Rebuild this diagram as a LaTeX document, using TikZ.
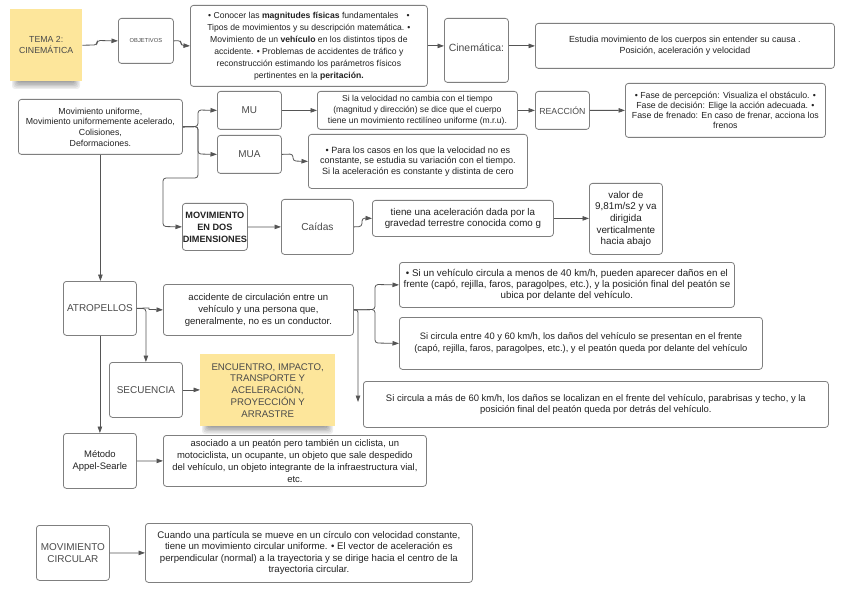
\documentclass[tikz,border=0pt]{standalone}
\usepackage{fontspec}
\setmainfont{Liberation Sans}
\usetikzlibrary{arrows.meta}
\definecolor{cSticky}{HTML}{FDE69B}
\definecolor{cBord}{HTML}{7F7F7F}
\definecolor{cConn}{HTML}{555555}
\definecolor{cLbl}{HTML}{4A4A4A}
\definecolor{cTxt}{HTML}{222222}
\newcommand{\fs}[2]{\fontsize{#1}{#2}\selectfont}
\newcommand{\stickyshadow}[3]{% x-left, x-right, y-bottom
  \foreach \i in {0,...,5}{
    \fill[black, opacity=0.07, rounded corners=3bp]
      ({#1+2+1.3*\i}, {#3-3+0.3*\i}) rectangle ({#2-2-1.3*\i}, {#3+8-1.4*\i});
  }}
\begin{document}
\begin{tikzpicture}[x=1bp,y=-1bp,
 box/.style={draw=cBord, line width=0.8bp, rounded corners=3bp, fill=white, inner sep=0pt, align=center, text=cTxt, anchor=north west},
 lab/.style={box, text=cLbl},
 stk/.style={fill=cSticky, inner sep=0pt, align=center, text=cLbl, anchor=north west},
 conn/.style={draw=cConn, line width=0.8bp, rounded corners=3bp, -{Triangle[length=6.5bp,width=4.5bp]}},
]
\useasboundingbox[fill=white] (0,0) rectangle (848,599);

% sticky-note shadows
\stickyshadow{10}{82}{81}
\stickyshadow{200}{335}{426}

% ---- top row
\node[stk, minimum width=72bp, minimum height=72bp, font=\fs{8.8}{11}] (tema) at (10,9) {TEMA 2:\\CINEMÁTICA};
\node[box, minimum width=55bp, minimum height=45bp, font=\fs{5.8}{7}, text=cLbl] (obj) at (118,18) {OBJETIVOS};
\node[box, minimum width=237bp, minimum height=81bp, font=\fs{8.65}{12}] (objb) at (190,5)
 {• Conocer las \textbf{magnitudes físicas} fundamentales\hspace{8bp}•\\
  Tipos de movimientos y su descripción matemática. •\\
  Movimiento de un \textbf{vehículo} en los distintos tipos de\\
  accidente. • Problemas de accidentes de tráfico y\\
  reconstrucción estimando los parámetros físicos\\
  pertinentes en la \textbf{peritación.}};
\node[lab, minimum width=64bp, minimum height=64bp, font=\fs{10.5}{12}] (cine) at (444,18) {\raisebox{6bp}{Cinemática:}};
\node[box, minimum width=299bp, minimum height=45bp, font=\fs{8.9}{11}] (est) at (535,23)
 {Estudia movimiento de los cuerpos sin entender su causa .\\Posición, aceleración y velocidad};

% ---- second block
\node[box, minimum width=164bp, minimum height=55bp, font=\fs{8.8}{10.7}] (movu) at (18,99)
 {Movimiento uniforme,\\Movimiento uniformemente acelerado,\\Colisiones,\\Deformaciones.};
\node[lab, minimum width=64bp, minimum height=38bp, font=\fs{10}{12}] (mu) at (217,91) {MU};
\node[lab, minimum width=64bp, minimum height=38bp, font=\fs{10}{12}] (mua) at (217,135) {MUA};
\node[box, minimum width=200bp, minimum height=38bp, font=\fs{8.6}{11}] (sivel) at (317,91)
 {Si la velocidad no cambia con el tiempo\\(magnitud y dirección) se dice que el cuerpo\\tiene un movimiento rectilíneo uniforme (m.r.u).};
\node[lab, minimum width=54bp, minimum height=38bp, font=\fs{8.8}{11}] (reac) at (535,91) {REACCIÓN};
\node[box, minimum width=200bp, minimum height=54bp, font=\fs{8.8}{10.3}] (fase) at (625,83)
 {• Fase de percepción: Visualiza el obstáculo. •\\Fase de decisión: Elige la acción adecuada. •\\Fase de frenado: En caso de frenar, acciona los\\frenos};
\node[box, minimum width=219bp, minimum height=54bp, font=\fs{9.1}{10.3}] (para) at (308,134)
 {• Para los casos en los que la velocidad no es\\constante, se estudia su variación con el tiempo.\\Si la aceleración es constante y distinta de cero};
\node[box, minimum width=65bp, minimum height=47bp, font=\fs{9.2}{12}\bfseries] (dos) at (182,203)
 {MOVIMIENTO\\EN DOS\\DIMENSIONES};
\node[lab, minimum width=72bp, minimum height=55bp, font=\fs{10.2}{12}] (caidas) at (281,199) {Caídas};
\node[box, minimum width=181bp, minimum height=36bp, font=\fs{9.8}{11}] (tiene) at (372,200)
 {tiene una aceleración dada por la\\gravedad terrestre conocida como g};
\node[box, minimum width=73bp, minimum height=71bp, font=\fs{9.9}{11.6}] (valor) at (589,183)
 {valor de\\9,81m/s2 y va\\dirigida\\verticalmente\\hacia abajo};

% ---- third block
\node[lab, minimum width=73bp, minimum height=54bp, font=\fs{10}{12}] (atro) at (63,281) {ATROPELLOS};
\node[box, minimum width=190bp, minimum height=51bp, font=\fs{9.6}{12}] (acc) at (163,284)
 {accidente de circulación entre un\\vehículo y una persona que,\\generalmente, no es un conductor.};
\node[box, minimum width=335bp, minimum height=45bp, font=\fs{9.8}{11.5}] (s40) at (399,262)
 {• Si un vehículo circula a menos de 40 km/h, pueden aparecer daños en el\\frente (capó, rejilla, faros, paragolpes, etc.), y la posición final del peatón se\\ubica por delante del vehículo.};
\node[box, minimum width=363bp, minimum height=52bp, font=\fs{9.4}{12}] (s4060) at (399,317)
 {Si circula entre 40 y 60 km/h, los daños del vehículo se presentan en el frente\\(capó, rejilla, faros, paragolpes, etc.), y el peatón queda por delante del vehículo};
\node[box, minimum width=465bp, minimum height=46bp, font=\fs{9.5}{10.5}] (s60) at (363,381)
 {Si circula a más de 60 km/h, los daños se localizan en el frente del vehículo, parabrisas y techo, y la\\posición final del peatón queda por detrás del vehículo.};
\node[lab, minimum width=73bp, minimum height=55bp, font=\fs{10}{12}] (sec) at (109,362) {SECUENCIA};
\node[stk, minimum width=135bp, minimum height=72bp, font=\fs{9.7}{11.8}] (enc) at (200,354)
 {ENCUENTRO, IMPACTO,\\TRANSPORTE Y\\ACELERACIÓN,\\PROYECCIÓN Y\\ARRASTRE};
\node[box, minimum width=73bp, minimum height=55bp, font=\fs{9.5}{11.5}] (met) at (63,433) {Método\\Appel-Searle};
\node[box, minimum width=263bp, minimum height=51bp, font=\fs{9.5}{12}] (aso) at (163,435)
 {asociado a un peatón pero también un ciclista, un\\motociclista, un ocupante, un objeto que sale despedido\\del vehículo, un objeto integrante de la infraestructura vial,\\etc.};
\node[lab, minimum width=73bp, minimum height=55bp, font=\fs{10}{12}] (movc) at (36,525) {MOVIMIENTO\\CIRCULAR};
\node[box, minimum width=327bp, minimum height=59bp, font=\fs{9.66}{11.5}] (cuando) at (145,523)
 {Cuando una partícula se mueve en un círculo con velocidad constante,\\tiene un movimiento circular uniforme. • El vector de aceleración es\\perpendicular (normal) a la trayectoria y se dirige hacia el centro de la\\trayectoria circular.};

\coordinate (s60tip) at (358,402);

% ---- connectors
\draw[conn] (tema.east) -- (97,45) -- (97,40.5) -- (obj.west);
\draw[conn] (obj.east) -- (181,40.5) -- (181,45.5) -- (objb.west);
\draw[conn] (objb.east) -- (cine.west |- objb.east);
\draw[conn] (cine.east |- est.west) -- (est.west);

\draw[conn] (movu.east) -- (198,126.5) -- (198,110) -- (mu.west);
\draw[conn] (movu.east) -- (198,126.5) -- (198,154) -- (mua.west);
\draw[conn] (movu.east) -- (198,126.5) -- (198,178) -- (163,178) -- (163,226.5) -- (dos.west);
\draw[conn] (movu.south) -- (movu.south |- atro.north);
\draw[conn] (mu.east) -- (sivel.west);
\draw[conn] (mua.east) -- (293,154) -- (293,161) -- (para.west);
\draw[conn] (sivel.east) -- (reac.west);
\draw[conn] (reac.east) -- (fase.west);
\draw[conn] (dos.east) -- (caidas.west);
\draw[conn] (caidas.east) -- (362,226.5) -- (362,218) -- (tiene.west);
\draw[conn] (tiene.east) -- (valor.west |- tiene.east);

\draw[conn] (atro.east) -- (146,308) .. controls (149,308) and (149,309.5) .. (152,309.5) -- (acc.west);
\draw[conn] (atro.east) -| (sec.north);
\draw[conn] (atro.south) -- (met.north);
\draw[conn] (sec.east) -- (enc.west |- sec.east);
\draw[conn] (acc.east) -- (375,309.5) -- (375,284.5) -- (s40.west);
\draw[conn] (acc.east) -- (375,309.5) -- (375,343) -- (s4060.west);
\draw[conn] (acc.east) -- (358,309.5) -- (s60tip);
\draw[conn] (met.east) -- (aso.west);
\draw[conn] (movc.east) -- (cuando.west);
\end{tikzpicture}
\end{document}
